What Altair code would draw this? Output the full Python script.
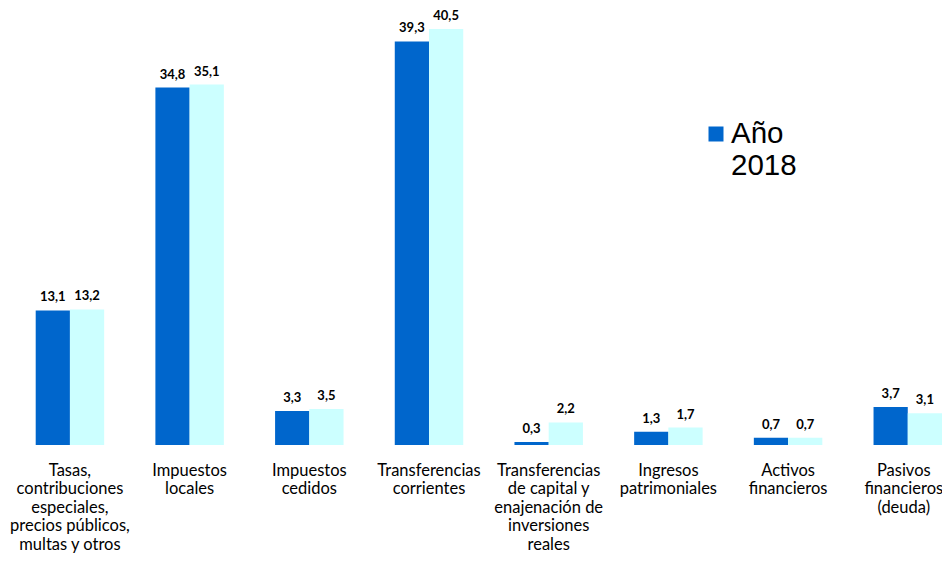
import altair as alt
import pandas as pd

categories = [
    "Tasas,|contribuciones|especiales,|precios públicos,|multas y otros",
    "Impuestos|locales",
    "Impuestos|cedidos",
    "Transferencias|corrientes",
    "Transferencias|de capital y|enajenación de|inversiones|reales",
    "Ingresos|patrimoniales",
    "Activos|financieros",
    "Pasivos|financieros|(deuda)",
]
series = ["Año 2018", "Año 2019"]
values_2018 = [13.1, 34.8, 3.3, 39.3, 0.3, 1.3, 0.7, 3.7]
values_2019 = [13.2, 35.1, 3.5, 40.5, 2.2, 1.7, 0.7, 3.1]
colors = ["#0066CC", "#CCFFFF"]
legend_lines = ["Año", "2018"]

rows = []
for s, vals in zip(series, [values_2018, values_2019]):
    for c, v in zip(categories, vals):
        rows.append({"category": c, "series": s, "value": v,
                     "label": f"{v:.1f}".replace(".", ",")})
df = pd.DataFrame(rows)

x = alt.X("category:N", sort=categories, title=None,
          scale=alt.Scale(range=[27.7, 934], paddingInner=0.428, paddingOuter=0,
                          round=False),
          axis=alt.Axis(domain=False, ticks=False, labelAngle=0,
                        labelExpr="split(datum.label, '|')",
                        labelFont="Lato", labelFontSize=16.5, labelColor="#000000",
                        labelLineHeight=18.5, labelPadding=17, labelLimit=0,
                        labelBaseline="top", labelBound=False, labelOverlap=False,
                        labelOffset={"condition": {"test": "datum.index == 1", "value": -4},
                                     "value": 0}))
xo = alt.XOffset("series:N", sort=series,
                 scale=alt.Scale(paddingInner=0, paddingOuter=0, round=False))
y = alt.Y("value:Q", axis=None, scale=alt.Scale(domain=[0, 42.55], nice=False))

bars = alt.Chart(df).mark_bar().encode(
    x=x, xOffset=xo, y=y,
    color=alt.Color("series:N", sort=series,
                    scale=alt.Scale(domain=series, range=colors), legend=None),
)

labels = alt.Chart(df).mark_text(
    font="Lato", fontWeight="bold", fontSize=13, color="#000000",
    baseline="alphabetic", dy=-9
).encode(x=x, xOffset=xo, y=y, text="label:N")

legend_df = pd.DataFrame({"item": [series[0]]})
legend_square = alt.Chart(legend_df).mark_point(
    shape="square", filled=True, size=225, color=colors[0], opacity=1, strokeWidth=0
).encode(x=alt.value(708), y=alt.value(126))
legend_text = alt.Chart(legend_df).mark_text(
    text=legend_lines, font="Liberation Sans", fontSize=29.5, lineHeight=32,
    align="left", baseline="alphabetic", color="#000000"
).encode(x=alt.value(723), y=alt.value(135))

chart = alt.layer(bars, labels, legend_square, legend_text).properties(
    width=934, height=437,
    padding={"left": 0, "top": 0, "right": 0, "bottom": 109},
    autosize=alt.AutoSizeParams(type="none"),
    background="#ffffff",
).configure_view(stroke=None)

chart.save("out.html", embed_options={"renderer": "svg", "actions": False})
